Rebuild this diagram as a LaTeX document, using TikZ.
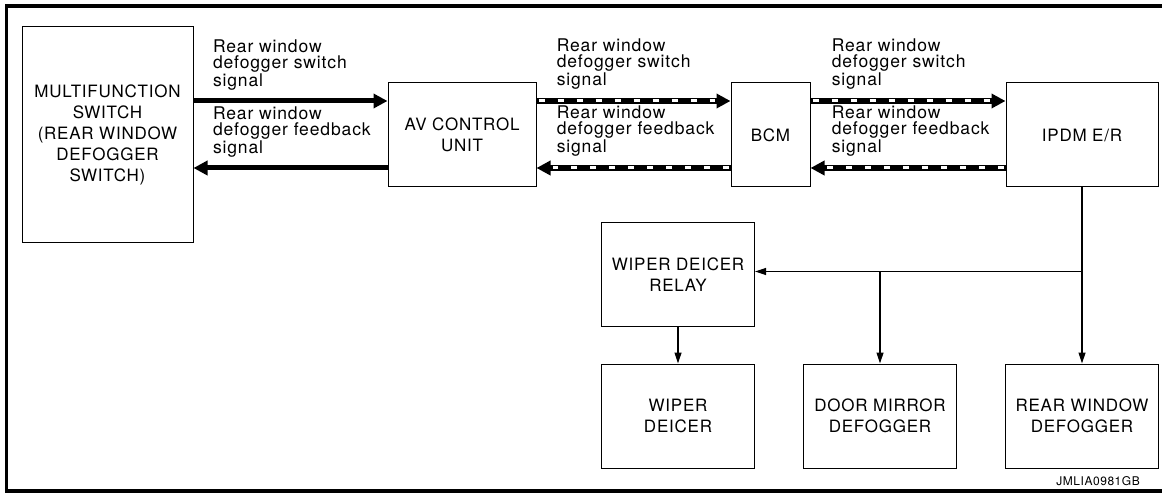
\documentclass[tikz,border=0pt]{standalone}
\usepackage{fontspec}
\setmainfont{TeX Gyre Heros}
\newfontfamily\boxfont{TeX Gyre Heros}[LetterSpace=4.5]
\newfontfamily\sigfont{TeX Gyre Heros}[LetterSpace=5]
\usepackage{tikz}
\usetikzlibrary{arrows.meta, positioning, calc}
\tikzset{
	ecu/.style     ={rectangle, draw=black, line width=1pt, align=center, minimum width=153pt, minimum height=104pt, inner sep=2pt, font=\boxfont\fontsize{17}{21}\selectfont},
	sigtxt/.style  ={align=left, inner sep=0pt, anchor=south west, font=\sigfont\fontsize{17.5}{16.5}\selectfont},
	solidsig/.style={line width=5pt, -{Triangle[length=14pt,width=14pt]}},
	dashsig/.style ={line width=6.5pt, -{Triangle[length=14pt,width=14pt]},
		postaction={draw=white, -, line width=3pt, dash pattern=on 6pt off 13pt, shorten <=2pt, shorten >=16pt}},
	feed/.style    ={line width=1.2pt, -{Triangle[length=11pt,width=7pt]}},
}

\begin{document}
\begin{tikzpicture}[x=1pt, y=-1pt]
	\useasboundingbox (0,0) rectangle (1162,494);
	\draw[line width=3.5pt] (1170,6) -| (6.5,491) -- (1170,491);
	% upper row
	\node[ecu, minimum width=171pt, minimum height=216pt] (mfsw) at (107.5,135) {MULTIFUNCTION\\SWITCH\\(REAR WINDOW\\DEFOGGER\\SWITCH)};
	\node[ecu, minimum width=148pt, right=194pt of mfsw] (avcu) {AV CONTROL\\UNIT};
	\node[ecu, minimum width=79pt, right=194pt of avcu] (bcm) {BCM};
	\node[ecu, minimum width=152pt, right=195pt of bcm] (ipdm) {IPDM E/R};
	% lower row
	\node[ecu, below=176pt of ipdm] (rwdef) {REAR WINDOW\\DEFOGGER};
	\node[ecu, left=48pt of rwdef] (dmdef) {DOOR MIRROR\\DEFOGGER};
	\node[ecu, left=48pt of dmdef] (wdeicer) {WIPER\\DEICER};
	\node[ecu, above=36pt of wdeicer] (wdrelay) {WIPER DEICER\\RELAY};
	% signals
	\draw[solidsig] ([yshift=34pt]mfsw.east) -- node[sigtxt, pos=0, xshift=17pt, yshift=8.5pt] {Rear window\\defogger switch\\signal} ([yshift=34pt]avcu.west);
	\draw[solidsig] ([yshift=-33pt]avcu.west) -- node[sigtxt, pos=1, xshift=17pt, yshift=8.5pt] {Rear window\\defogger feedback\\signal} ([yshift=-33pt]mfsw.east);
	\draw[dashsig] ([yshift=34pt]avcu.east) -- node[sigtxt, pos=0, xshift=17pt, yshift=8.5pt] {Rear window\\defogger switch\\signal} ([yshift=34pt]bcm.west);
	\draw[dashsig] ([yshift=-33pt]bcm.west) -- node[sigtxt, pos=1, xshift=17pt, yshift=8.5pt] {Rear window\\defogger feedback\\signal} ([yshift=-33pt]avcu.east);
	\draw[dashsig] ([yshift=34pt]bcm.east) -- node[sigtxt, pos=0, xshift=18pt, yshift=8.5pt] {Rear window\\defogger switch\\signal} ([yshift=34pt]ipdm.west);
	\draw[dashsig] ([yshift=-33pt]ipdm.west) -- node[sigtxt, pos=1, xshift=18pt, yshift=8.5pt] {Rear window\\defogger feedback\\signal} ([yshift=-33pt]bcm.east);
	% power feed
	\coordinate[below=84pt of ipdm.south] (split);
	\draw[feed] (ipdm) -- (rwdef);
	\draw[feed] (split) -- (split -| wdrelay.east);
	\draw[feed] (split -| dmdef.north) -- (dmdef);
	\draw[feed] (wdrelay) -- (wdeicer);
	\node[anchor=base east, inner sep=0pt, font=\boxfont\fontsize{12}{13}\selectfont] (figid) at (1140,485) {JMLIA0981GB};
\end{tikzpicture}
\end{document}
